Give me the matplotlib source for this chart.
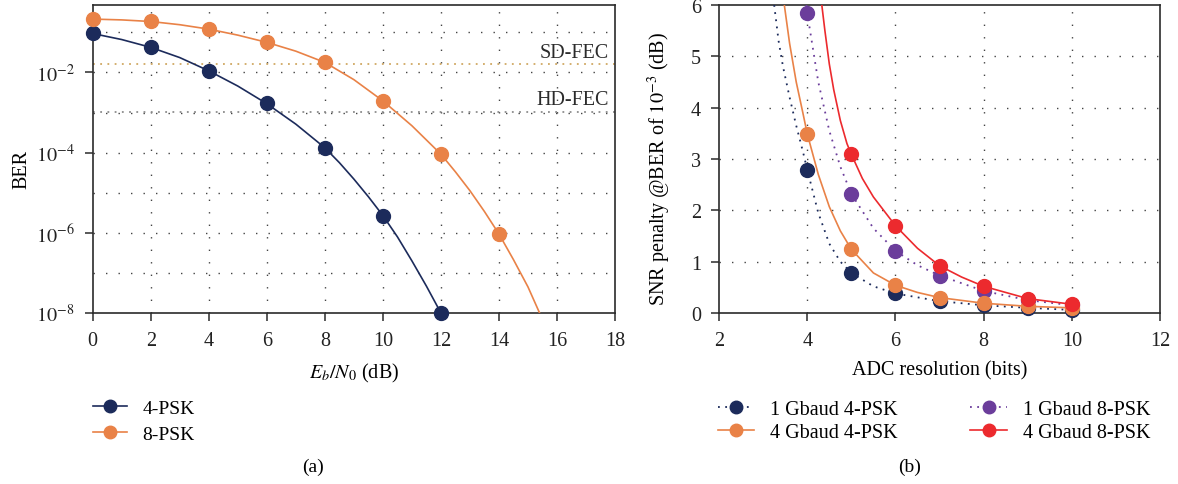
import matplotlib
matplotlib.use('Agg')
import matplotlib.pyplot as plt
from matplotlib.lines import Line2D
from matplotlib.ticker import NullLocator

plt.rcParams['font.family'] = ['Liberation Serif', 'DejaVu Serif']
plt.rcParams['mathtext.fontset'] = 'stix'

# ---- panel (a): BER vs Eb/N0 ----
ebn0 = [0, 2, 4, 6, 8, 10, 12, 14]
ber_4psk = [9.4e-2, 4.2e-2, 1.1e-2, 1.7e-3, 1.3e-4, 2.7e-6, 1.0e-8]
ber_8psk = [2.1e-1, 1.9e-1, 1.2e-1, 5.6e-2, 1.8e-2, 1.9e-3, 9.0e-5, 9.3e-7]

# fitted curves (log10 BER)
curve_x_4psk = [0, 1, 2, 3, 4, 5, 6, 7, 8, 8.5, 9, 9.5, 10, 10.5, 11, 11.5, 12]
curve_log_4psk = [-1.03, -1.18, -1.375, -1.63, -1.96, -2.34, -2.78, -3.29,
                  -3.88, -4.25, -4.66, -5.1, -5.57, -6.1, -6.7, -7.33, -8.0]
curve_x_8psk = [0, 1, 2, 3, 4, 5, 6, 7, 8, 9, 10, 11, 12, 12.5, 13, 13.5, 14, 14.5, 15, 15.4]
curve_log_8psk = [-0.67, -0.69, -0.73, -0.81, -0.92, -1.07, -1.25, -1.47,
                  -1.75, -2.18, -2.71, -3.33, -4.04, -4.48, -4.95, -5.47, -6.03,
                  -6.67, -7.35, -8.0]

sd_fec = 1.6e-2
hd_fec = 1.05e-3

# ---- panel (b): SNR penalty vs ADC resolution ----
adc_bits = [4, 5, 6, 7, 8, 9, 10]
pen_1g_4psk = [2.78, 0.78, 0.38, 0.23, 0.15, 0.10, 0.06]
pen_4g_4psk = [3.49, 1.24, 0.54, 0.30, 0.19, 0.13, 0.10]
pen_1g_8psk = [5.84, 2.32, 1.21, 0.73, 0.43, 0.25, 0.15]
adc_bits_4g_8psk = [5, 6, 7, 8, 9, 10]
pen_4g_8psk = [3.09, 1.70, 0.92, 0.52, 0.28, 0.17]

# fitted curves
cx_1g_4psk = [3.25, 3.35, 3.45, 3.6, 3.75, 3.9, 4, 4.25, 4.5, 4.75, 5, 5.5, 6, 7, 8, 9, 10]
cy_1g_4psk = [6.0, 5.3, 4.8, 4.2, 3.65, 3.15, 2.79, 1.95, 1.35, 1.0, 0.78, 0.52, 0.38,
              0.23, 0.15, 0.10, 0.06]
cx_4g_4psk = [3.48, 3.6, 3.75, 3.9, 4, 4.25, 4.5, 4.75, 5, 5.5, 6, 6.5, 7, 8, 9, 10]
cy_4g_4psk = [6.0, 5.25, 4.5, 3.9, 3.49, 2.7, 2.07, 1.6, 1.24, 0.78, 0.54, 0.40, 0.30,
              0.19, 0.13, 0.10]
cx_1g_8psk = [3.98, 4, 4.25, 4.5, 4.75, 5, 5.5, 6, 6.5, 7, 8, 9, 10]
cy_1g_8psk = [6.0, 5.84, 4.5, 3.55, 2.85, 2.32, 1.65, 1.21, 0.93, 0.73, 0.43, 0.25, 0.15]
cx_4g_8psk = [4.33, 4.4, 4.5, 4.6, 4.75, 4.9, 5, 5.25, 5.5, 6, 6.5, 7, 7.5, 8, 9, 10]
cy_4g_8psk = [6.0, 5.5, 4.85, 4.35, 3.75, 3.3, 3.09, 2.62, 2.26, 1.70, 1.26, 0.92, 0.70,
              0.52, 0.28, 0.17]

navy = '#1c2b5b'
orange = '#e98247'
purple = '#6b3d9b'
red = '#ec2a2e'
grid_style = dict(color='#444444', linestyle=(0, (1, 8)), linewidth=1.0)
MS = 10

fig = plt.figure(figsize=(11.78, 4.85), dpi=100)
ax1 = fig.add_axes([0.0787, 0.3526, 0.4434, 0.635])
ax2 = fig.add_axes([0.6104, 0.3526, 0.3744, 0.635])

# panel (a)
ax1.set_yscale('log')
ax1.plot(curve_x_4psk, [10 ** v for v in curve_log_4psk], color=navy, lw=1.2, zorder=3)
ax1.plot(curve_x_8psk, [10 ** v for v in curve_log_8psk], color=orange, lw=1.2, zorder=3)
ax1.plot(ebn0[:len(ber_4psk)], ber_4psk, 'o', color=navy, ms=MS, zorder=4, clip_on=False)
ax1.plot(ebn0[:len(ber_8psk)], ber_8psk, 'o', color=orange, ms=MS, zorder=4, clip_on=False)
ax1.axhline(sd_fec, color='#d0a862', linestyle=(0, (1, 3)), lw=1.3, zorder=2)
ax1.axhline(hd_fec, color='#8c8c8c', linestyle=(0, (1, 3)), lw=1.3, zorder=2)
ax1.text(17.8, 3.2e-2, 'SD-FEC', ha='right', va='center', fontsize=14.5, color='#2b2b2b')
ax1.text(17.8, 2.1e-3, 'HD-FEC', ha='right', va='center', fontsize=14.5, color='#2b2b2b')
ax1.set_xlim(0, 18)
ax1.set_ylim(1e-8, 0.48)
ax1.set_xticks(range(0, 19, 2))
ax1.yaxis.set_minor_locator(NullLocator())
ax1.set_yticks([1e-8, 1e-6, 1e-4, 1e-2])
ax1.set_yticklabels([r'$10^{-8}$', r'$10^{-6}$', r'$10^{-4}$', r'$10^{-2}$'])
for v in range(2, 18, 2):
    ax1.axvline(v, zorder=1, **grid_style)
for e in range(-7, 0):
    ax1.axhline(10.0 ** e, zorder=1, **grid_style)
ax1.set_xlabel(r'$E_b/N_0$ (dB)', fontsize=14.5)
ax1.set_ylabel('BER', fontsize=14.5)
ax1.xaxis.set_label_coords(0.5, -0.155)
ax1.yaxis.set_label_coords(-0.118, 0.47)

# panel (b)
ax2.plot(cx_1g_4psk, cy_1g_4psk, color=navy, linestyle=(0, (1, 3)), lw=1.3, zorder=3)
ax2.plot(cx_4g_4psk, cy_4g_4psk, color=orange, lw=1.2, zorder=3)
ax2.plot(cx_1g_8psk, cy_1g_8psk, color=purple, linestyle=(0, (1, 3)), lw=1.3, zorder=3)
ax2.plot(cx_4g_8psk, cy_4g_8psk, color=red, lw=1.2, zorder=3)
ax2.plot(adc_bits, pen_1g_4psk, 'o', color=navy, ms=MS, zorder=4, clip_on=False)
ax2.plot(adc_bits, pen_1g_8psk, 'o', color=purple, ms=MS, zorder=4, clip_on=False)
ax2.plot(adc_bits, pen_4g_4psk, 'o', color=orange, ms=MS, zorder=5, clip_on=False)
ax2.plot(adc_bits_4g_8psk, pen_4g_8psk, 'o', color=red, ms=MS, zorder=5, clip_on=False)
ax2.set_xlim(2, 12)
ax2.set_ylim(0, 6)
ax2.set_xticks(range(2, 13, 2))
ax2.set_yticks(range(0, 7))
for v in range(4, 12, 2):
    ax2.axvline(v, zorder=1, **grid_style)
for h in range(1, 6):
    ax2.axhline(h, zorder=1, **grid_style)
ax2.set_xlabel('ADC resolution (bits)', fontsize=14.5)
ax2.set_ylabel(r'SNR penalty @BER of $10^{-3}$ (dB)', fontsize=14.5)
ax2.xaxis.set_label_coords(0.5, -0.155)
ax2.yaxis.set_label_coords(-0.105, 0.47)

for ax in (ax1, ax2):
    for s in ax.spines.values():
        s.set_color('#2b2b2b')
        s.set_linewidth(1.2)
    ax.tick_params(which='major', direction='out', length=6, width=1.1,
                   labelsize=14.5, colors='#2b2b2b', labelcolor='#222222', pad=7)

# legends
h_a = [Line2D([], [], color=navy, marker='o', ms=9, lw=1.2),
       Line2D([], [], color=orange, marker='o', ms=9, lw=1.2)]
fig.legend(h_a, ['4-PSK', '8-PSK'], loc='upper left', bbox_to_anchor=(93 / 1178, 1 - 400 / 485),
           frameon=False, fontsize=14, borderpad=0, borderaxespad=0,
           handlelength=1.75, labelspacing=0.45, handletextpad=0.8)

h_b = [Line2D([], [], color=navy, marker='o', ms=9, lw=1.3, linestyle=(0, (1, 3))),
       Line2D([], [], color=orange, marker='o', ms=9, lw=1.2),
       Line2D([], [], color=purple, marker='o', ms=9, lw=1.3, linestyle=(0, (1, 3))),
       Line2D([], [], color=red, marker='o', ms=9, lw=1.2)]
fig.legend(h_b, ['1 Gbaud 4-PSK', '4 Gbaud 4-PSK', '1 Gbaud 8-PSK', '4 Gbaud 8-PSK'],
           ncol=2, loc='upper left', bbox_to_anchor=(718 / 1178, 1 - 401 / 485),
           frameon=False, fontsize=14.5, borderpad=0, borderaxespad=0,
           handlelength=1.8, labelspacing=0.2, handletextpad=0.8, columnspacing=3.6)

fig.text(313 / 1178, 1 - 467 / 485, '(a)', ha='center', va='center', fontsize=14)
fig.text(910 / 1178, 1 - 467 / 485, '(b)', ha='center', va='center', fontsize=14)

fig.savefig('out.png', dpi=100)
